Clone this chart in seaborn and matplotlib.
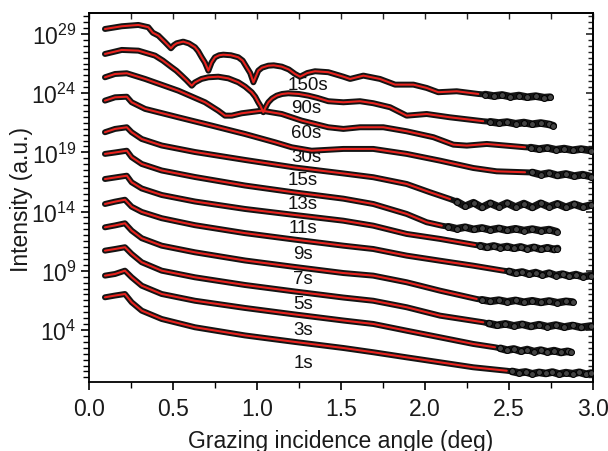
import numpy as np
import matplotlib
matplotlib.use("Agg")
import matplotlib.pyplot as plt
import seaborn as sns
from matplotlib.ticker import FixedLocator, NullFormatter

# ---------------- data (x in deg, log10 of intensity) ----------------
x_1s = [0.095, 0.155, 0.214, 0.254, 0.314, 0.433, 0.631, 0.929, 1.227, 1.515, 1.693, 1.892, 2.091, 2.289, 2.488]
logI_1s = [6.76, 6.91, 7.04, 6.34, 5.63, 4.93, 4.23, 3.54, 2.99, 2.48, 2.12, 1.69, 1.27, 0.85, 0.56]
tail_x_1s = [2.52, 2.56, 2.60, 2.64, 2.68, 2.72, 2.76, 2.80, 2.84, 2.88, 2.92, 2.96, 2.99]
tail_logI_1s = [0.50, 0.38, 0.46, 0.30, 0.42, 0.33, 0.45, 0.28, 0.40, 0.31, 0.43, 0.27, 0.36]

x_3s = [0.095, 0.155, 0.214, 0.254, 0.314, 0.433, 0.631, 0.929, 1.227, 1.515, 1.693, 1.892, 2.091, 2.289, 2.418]
logI_3s = [8.59, 8.73, 9.01, 8.45, 7.74, 7.04, 6.47, 5.86, 5.31, 4.80, 4.51, 3.94, 3.38, 2.82, 2.54]
tail_x_3s = [2.45, 2.49, 2.53, 2.57, 2.61, 2.65, 2.69, 2.73, 2.77, 2.81, 2.85, 2.87]
tail_logI_3s = [2.45, 2.30, 2.40, 2.22, 2.35, 2.18, 2.30, 2.15, 2.26, 2.10, 2.20, 2.12]

x_5s = [0.095, 0.155, 0.214, 0.254, 0.314, 0.433, 0.631, 0.929, 1.227, 1.515, 1.693, 1.892, 2.091, 2.348]
logI_5s = [10.70, 10.84, 10.99, 10.42, 9.72, 9.01, 8.45, 7.80, 7.25, 6.74, 6.47, 5.92, 5.21, 4.65]
tail_x_5s = [2.38, 2.43, 2.48, 2.53, 2.58, 2.63, 2.68, 2.73, 2.78, 2.83, 2.88, 2.93, 2.99]
tail_logI_5s = [4.55, 4.40, 4.52, 4.35, 4.48, 4.30, 4.45, 4.28, 4.42, 4.25, 4.38, 4.22, 4.34]

x_7s = [0.095, 0.155, 0.214, 0.254, 0.314, 0.433, 0.631, 0.929, 1.227, 1.515, 1.693, 1.892, 2.091, 2.309]
logI_7s = [12.67, 12.83, 13.01, 12.39, 11.75, 11.12, 10.56, 9.87, 9.32, 8.81, 8.59, 8.03, 7.32, 6.62]
tail_x_7s = [2.34, 2.39, 2.44, 2.49, 2.54, 2.59, 2.64, 2.69, 2.74, 2.79, 2.84, 2.88]
tail_logI_7s = [6.55, 6.42, 6.52, 6.38, 6.50, 6.35, 6.47, 6.33, 6.45, 6.30, 6.42, 6.36]

x_9s = [0.095, 0.155, 0.214, 0.254, 0.314, 0.433, 0.631, 0.929, 1.227, 1.515, 1.693, 1.892, 2.091, 2.289, 2.468]
logI_9s = [14.64, 14.84, 15.00, 14.41, 13.97, 13.44, 12.85, 12.18, 11.63, 11.12, 10.84, 10.28, 9.85, 9.43, 9.01]
tail_x_9s = [2.50, 2.54, 2.58, 2.62, 2.66, 2.70, 2.74, 2.78, 2.82, 2.86, 2.90, 2.94, 2.99]
tail_logI_9s = [8.95, 8.80, 8.90, 8.72, 8.85, 8.65, 8.80, 8.60, 8.72, 8.55, 8.68, 8.50, 8.60]

x_11s = [0.095, 0.155, 0.225, 0.254, 0.314, 0.433, 0.631, 0.929, 1.227, 1.515, 1.693, 1.892, 2.091, 2.299]
logI_11s = [16.75, 16.88, 17.03, 16.47, 15.95, 15.40, 14.85, 14.22, 13.71, 13.23, 12.81, 12.11, 11.69, 11.18]
tail_x_11s = [2.33, 2.37, 2.41, 2.45, 2.49, 2.53, 2.57, 2.61, 2.65, 2.69, 2.73, 2.77, 2.79]
tail_logI_11s = [11.12, 10.98, 11.10, 10.95, 11.05, 10.90, 11.02, 10.85, 10.98, 10.82, 10.95, 10.80, 10.88]

x_13s = [0.095, 0.155, 0.225, 0.254, 0.314, 0.433, 0.631, 0.929, 1.227, 1.515, 1.693, 1.892, 2.011, 2.101]
logI_13s = [18.87, 18.99, 19.14, 18.59, 18.02, 17.47, 16.92, 16.20, 15.61, 15.09, 14.64, 13.80, 13.10, 12.81]
tail_x_13s = [2.14, 2.19, 2.24, 2.29, 2.34, 2.39, 2.44, 2.49, 2.54, 2.59, 2.64, 2.69, 2.74, 2.785]
tail_logI_13s = [12.72, 12.55, 12.68, 12.50, 12.62, 12.45, 12.58, 12.42, 12.55, 12.40, 12.52, 12.38, 12.48, 12.30]

x_15s = [0.095, 0.155, 0.225, 0.254, 0.314, 0.433, 0.631, 0.929, 1.227, 1.515, 1.693, 1.892, 2.031, 2.150]
logI_15s = [20.70, 20.98, 21.12, 20.70, 20.13, 19.58, 19.03, 18.36, 17.72, 17.22, 16.90, 16.33, 15.63, 15.06]
tail_x_15s = [2.19, 2.24, 2.29, 2.34, 2.39, 2.44, 2.49, 2.54, 2.59, 2.64, 2.69, 2.74, 2.79, 2.84, 2.89, 2.94, 2.99]
tail_logI_15s = [14.85, 14.45, 14.75, 14.35, 14.70, 14.40, 14.72, 14.38, 14.68, 14.35, 14.70, 14.40, 14.66, 14.36, 14.62, 14.38, 14.55]

x_30s = [0.095, 0.155, 0.225, 0.254, 0.334, 0.532, 0.731, 0.929, 1.108, 1.207, 1.326, 1.515, 1.693, 1.892, 2.091, 2.289, 2.428, 2.597]
logI_30s = [23.37, 23.65, 23.70, 23.23, 22.67, 21.96, 21.26, 20.55, 19.85, 19.43, 19.14, 19.29, 19.29, 18.87, 18.30, 17.68, 17.40, 17.32]
tail_x_30s = [2.64, 2.69, 2.74, 2.79, 2.84, 2.89, 2.94, 2.99]
tail_logI_30s = [17.30, 17.12, 17.25, 17.05, 17.18, 17.00, 17.12, 16.95]

x_60s = [0.095, 0.155, 0.225, 0.334, 0.532, 0.691, 0.770, 0.810, 0.850, 0.909, 1.029, 1.148, 1.267, 1.425, 1.515,
         1.614, 1.753, 1.892, 2.051, 2.170, 2.250, 2.369, 2.597]
logI_60s = [25.34, 25.62, 25.68, 25.20, 24.21, 23.23, 22.52, 22.10, 22.10, 22.30, 22.52, 22.24, 21.68, 21.12, 20.98,
            21.12, 21.12, 20.78, 20.28, 19.65, 19.57, 19.71, 19.43]
tail_x_60s = [2.63, 2.68, 2.73, 2.78, 2.83, 2.88, 2.93, 2.99]
tail_logI_60s = [19.40, 19.28, 19.38, 19.22, 19.32, 19.18, 19.28, 19.15]

x_90s = [0.095, 0.195, 0.294, 0.393, 0.440, 0.492, 0.520, 0.552, 0.580, 0.612, 0.630, 0.651, 0.670, 0.711, 0.770,
         0.830, 0.889, 0.930, 0.969, 0.990, 1.008, 1.020, 1.038, 1.055, 1.068, 1.090, 1.118, 1.150, 1.187, 1.250,
         1.306, 1.360, 1.425, 1.515, 1.614, 1.693, 1.793, 1.892, 2.011, 2.150, 2.348]
logI_90s = [27.31, 27.65, 27.59, 27.17, 26.75, 26.19, 25.90, 25.48, 25.10, 24.63, 24.90, 25.06, 25.20, 25.34, 25.39,
            25.25, 24.92, 24.55, 24.08, 23.70, 23.23, 22.95, 22.39, 22.90, 23.23, 23.55, 23.79, 23.93, 23.99, 23.93,
            23.79, 23.60, 23.32, 23.23, 23.32, 23.15, 22.81, 22.10, 22.24, 21.96, 21.63]
tail_x_90s = [2.39, 2.44, 2.49, 2.54, 2.59, 2.64, 2.69, 2.74, 2.765]
tail_logI_90s = [21.58, 21.48, 21.56, 21.42, 21.52, 21.38, 21.48, 21.36, 21.25]

x_150s = [0.095, 0.195, 0.294, 0.353, 0.380, 0.413, 0.453, 0.470, 0.488, 0.505, 0.522, 0.561, 0.595, 0.631, 0.650,
          0.671, 0.690, 0.711, 0.730, 0.750, 0.775, 0.800, 0.845, 0.889, 0.915, 0.939, 0.960, 0.979, 1.008, 1.030,
          1.068, 1.100, 1.148, 1.190, 1.227, 1.257, 1.300, 1.346, 1.425, 1.515, 1.555, 1.634, 1.733, 1.823, 1.932,
          2.011, 2.080, 2.190, 2.319]
logI_150s = [29.42, 29.65, 29.76, 29.57, 29.10, 28.86, 28.30, 28.05, 27.79, 28.05, 28.21, 28.35, 28.20, 27.88, 27.55,
             27.03, 26.60, 25.90, 26.60, 27.03, 27.20, 27.25, 27.20, 27.03, 26.75, 26.19, 25.70, 24.92, 25.90, 26.15,
             26.32, 26.35, 26.24, 26.00, 25.62, 25.39, 25.70, 25.85, 25.77, 25.39, 25.20, 25.48, 25.20, 24.72, 24.72,
             24.44, 24.08, 24.16, 23.93]
tail_x_150s = [2.36, 2.41, 2.46, 2.51, 2.56, 2.61, 2.66, 2.71, 2.746]
tail_logI_150s = [23.88, 23.76, 23.85, 23.70, 23.80, 23.66, 23.75, 23.62, 23.66]

series_names = ["1s", "3s", "5s", "7s", "9s", "11s", "13s", "15s", "30s", "60s", "90s", "150s"]
label_x = [1.275, 1.275, 1.275, 1.275, 1.277, 1.275, 1.275, 1.275, 1.292, 1.292, 1.292, 1.301]
label_logI = [1.27, 4.03, 6.20, 8.37, 10.50, 12.67, 14.64, 16.75, 18.64, 20.70, 22.81, 24.69]

xtick_vals = [0.0, 0.5, 1.0, 1.5, 2.0, 2.5, 3.0]
xtick_labels = ["0.0", "0.5", "1.0", "1.5", "2.0", "2.5", "3.0"]
ytick_exps = [4, 9, 14, 19, 24, 29]

series = {
    "1s": (x_1s, logI_1s, tail_x_1s, tail_logI_1s),
    "3s": (x_3s, logI_3s, tail_x_3s, tail_logI_3s),
    "5s": (x_5s, logI_5s, tail_x_5s, tail_logI_5s),
    "7s": (x_7s, logI_7s, tail_x_7s, tail_logI_7s),
    "9s": (x_9s, logI_9s, tail_x_9s, tail_logI_9s),
    "11s": (x_11s, logI_11s, tail_x_11s, tail_logI_11s),
    "13s": (x_13s, logI_13s, tail_x_13s, tail_logI_13s),
    "15s": (x_15s, logI_15s, tail_x_15s, tail_logI_15s),
    "30s": (x_30s, logI_30s, tail_x_30s, tail_logI_30s),
    "60s": (x_60s, logI_60s, tail_x_60s, tail_logI_60s),
    "90s": (x_90s, logI_90s, tail_x_90s, tail_logI_90s),
    "150s": (x_150s, logI_150s, tail_x_150s, tail_logI_150s),
}

# ---------------- style ----------------
sns.set_theme(style="white")
plt.rcParams["font.family"] = ["Liberation Sans", "DejaVu Sans"]
plt.rcParams["mathtext.fontset"] = "custom"
plt.rcParams["mathtext.rm"] = "Liberation Sans"
plt.rcParams["mathtext.it"] = "Liberation Sans:italic"
plt.rcParams["mathtext.bf"] = "Liberation Sans:bold"

fig = plt.figure(figsize=(6.08, 4.52), dpi=100)
ax = fig.add_axes([0.1464, 0.1527, 0.8285, 0.8153])
ax.set_yscale("log")

for name in series_names:
    x, L, tx, tL = series[name]
    x_all = np.concatenate([x, tx])
    I_all = 10.0 ** np.concatenate([L, tL])
    sns.lineplot(x=x_all, y=I_all, sort=False, estimator=None, color="#141414",
                 linewidth=4.3, ax=ax, zorder=2, legend=False, solid_capstyle="round",
                 solid_joinstyle="round")
    sns.lineplot(x=tx, y=10.0 ** np.asarray(tL), sort=False, estimator=None, color="#141414",
                 linewidth=5.5, ax=ax, zorder=2, legend=False)
    sns.scatterplot(x=tx, y=10.0 ** np.asarray(tL), s=18, color="#444444", edgecolor="black",
                    linewidth=0.7, ax=ax, zorder=3, legend=False)
    sns.lineplot(x=x, y=10.0 ** np.asarray(L), sort=False, estimator=None, color="#e8231e",
                 linewidth=1.5, ax=ax, zorder=4, legend=False, solid_joinstyle="round")

for name, lx, ly in zip(series_names, label_x, label_logI):
    ax.text(lx, 10.0 ** ly, name, ha="center", va="center", fontsize=13.5, color="#111111", zorder=1)

ax.set_xlim(0, 3)
ax.set_ylim(10 ** -0.39, 10 ** 30.73)

ax.set_xticks(xtick_vals)
ax.set_xticklabels(xtick_labels)
ax.set_xticks(np.arange(0.25, 3.0, 0.5), minor=True)
ax.set_yticks([10.0 ** e for e in ytick_exps])
ax.set_yticklabels([r"$10^{%d}$" % e for e in ytick_exps])
ax.yaxis.set_minor_locator(FixedLocator(10.0 ** np.arange(0, 31, 0.5)))
ax.yaxis.set_minor_formatter(NullFormatter())

ax.tick_params(axis="both", which="major", direction="out", length=6, width=1.2,
               color="black", labelsize=16.5, labelcolor="#1a1a1a", pad=3,
               top=False, right=False, left=True, bottom=True)
ax.tick_params(axis="both", which="minor", direction="out", length=4, width=1.0,
               color="black", top=False, right=False, left=True, bottom=True)
ax.tick_params(axis="x", which="major", pad=5)

for sp in ax.spines.values():
    sp.set_linewidth(1.3)
    sp.set_color("black")

secx = ax.secondary_xaxis("top")
secx.set_xticks(np.arange(0, 3.01, 0.25))
secx.set_xticklabels([])
secx.tick_params(direction="in", length=4, width=1.0)
secx.spines["top"].set_linewidth(1.3)

secy = ax.secondary_yaxis("right")
secy.set_yticks([10.0 ** e for e in ytick_exps])
secy.set_yticklabels([])
secy.yaxis.set_minor_locator(FixedLocator(10.0 ** np.arange(0, 31, 0.5)))
secy.yaxis.set_minor_formatter(NullFormatter())
secy.tick_params(which="major", direction="in", length=5, width=1.2)
secy.tick_params(which="minor", direction="in", length=3.5, width=1.0)
secy.spines["right"].set_linewidth(1.3)

ax.set_xlabel("Grazing incidence angle (deg)", fontsize=16.5, color="#1a1a1a")
ax.xaxis.set_label_coords(0.5, -0.159)
ax.xaxis.label.set_va("center")
ax.set_ylabel("Intensity (a.u.)", fontsize=16.5, color="#1a1a1a")
ax.yaxis.set_label_coords(-0.135, 0.497)
ax.yaxis.label.set_va("center")

fig.savefig("out.png", dpi=100, facecolor="white")
